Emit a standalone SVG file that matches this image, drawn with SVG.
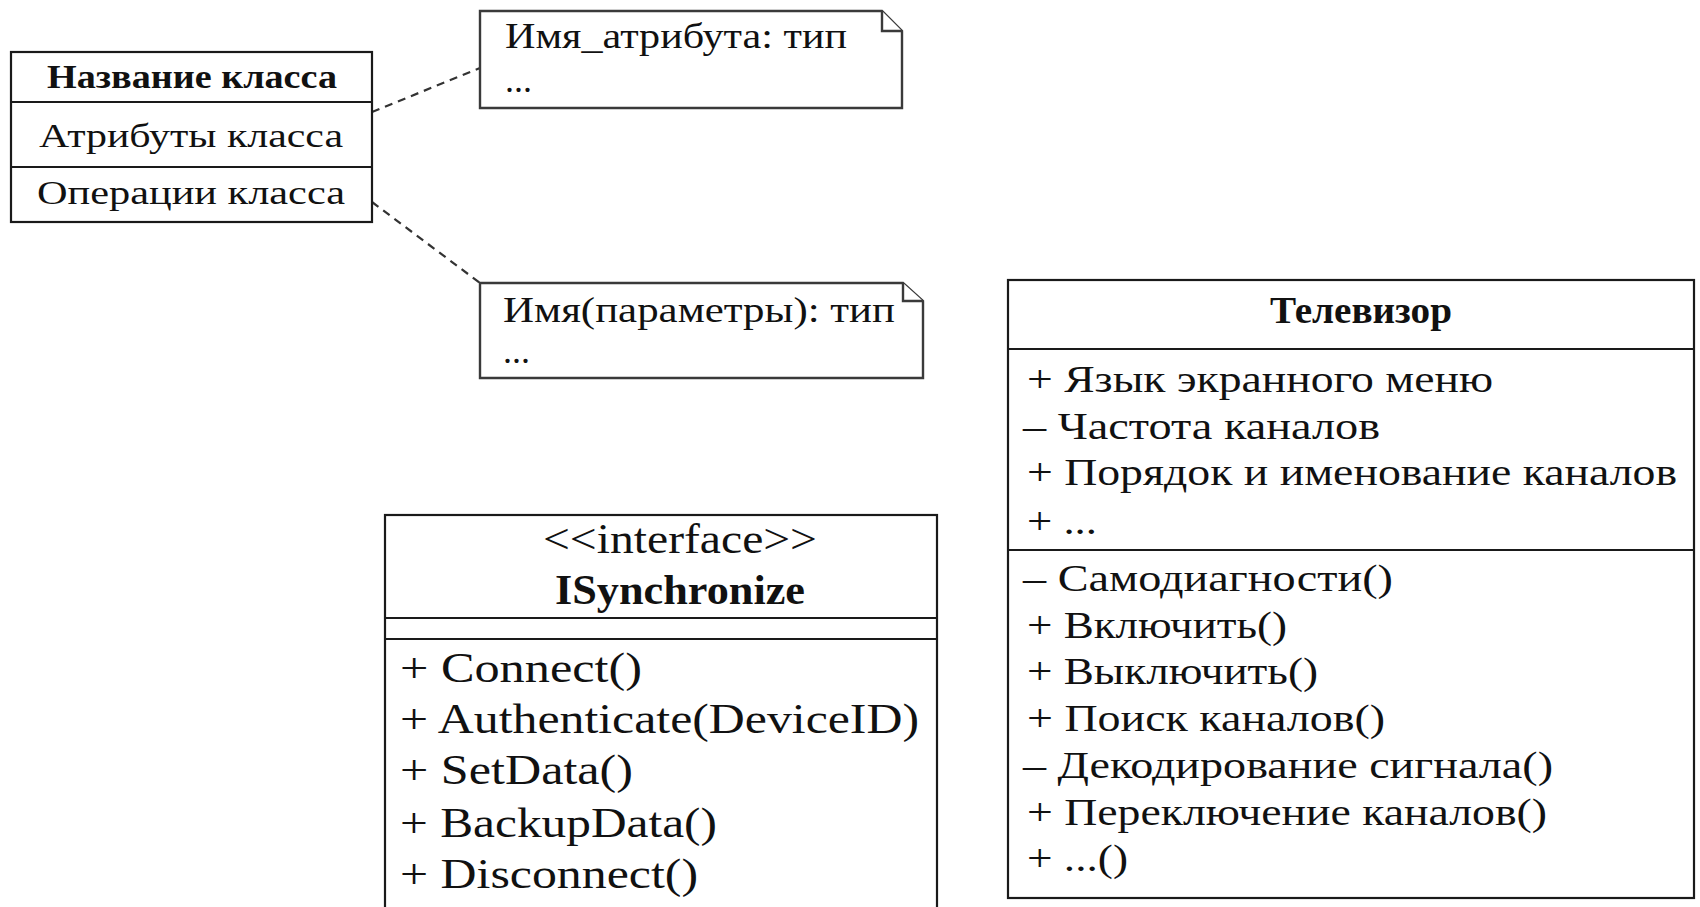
<svg xmlns="http://www.w3.org/2000/svg" width="1700" height="907" viewBox="0 0 1700 907">
<style>
.box{fill:#fff;stroke:#1a1a1a;stroke-width:2.2}
.ln{stroke:#1a1a1a;stroke-width:2.2;fill:none}
.note{fill:#fff;stroke:#3a3a3a;stroke-width:2.4}
.conn{stroke:#333;stroke-width:2.2;fill:none;stroke-dasharray:8 6}
text{font-family:"Liberation Serif","Times New Roman",serif;fill:#111}
.c{font-size:33px}
.n{font-size:36px}
.i{font-size:43px}
.t{font-size:37px}
.b{font-weight:bold}
.m{text-anchor:middle}
</style>
<rect width="1700" height="907" fill="#fff"/>
<g id="connectors">
<line class="conn" x1="372" y1="112" x2="480" y2="68"/>
<line class="conn" x1="372" y1="202" x2="480" y2="283"/>
</g>
<g id="class-template">
<rect class="box" x="11" y="52" width="361" height="170"/>
<line class="ln" x1="11" y1="102" x2="372" y2="102"/>
<line class="ln" x1="11" y1="167" x2="372" y2="167"/>
<text class="c b m" x="192" y="88" textLength="290" lengthAdjust="spacingAndGlyphs">Название класса</text>
<text class="c m" x="191" y="147" textLength="304" lengthAdjust="spacingAndGlyphs">Атрибуты класса</text>
<text class="c m" x="191" y="204" textLength="308" lengthAdjust="spacingAndGlyphs">Операции класса</text>
</g>
<g id="note-attr">
<path class="note" d="M480,11 H882 L902,31 V108 H480 Z"/>
<path class="note" d="M882,11 V31 H902"/>
<text class="n" x="505" y="48" textLength="342" lengthAdjust="spacingAndGlyphs">Имя_атрибута: тип</text>
<text class="n" x="505" y="92" textLength="27" lengthAdjust="spacingAndGlyphs">...</text>
</g>
<g id="note-op">
<path class="note" d="M480,283 H903 L923,301 V378 H480 Z"/>
<path class="note" d="M903,283 V301 H923"/>
<text class="n" x="503" y="322" textLength="392" lengthAdjust="spacingAndGlyphs">Имя(параметры): тип</text>
<text class="n" x="503" y="363" textLength="27" lengthAdjust="spacingAndGlyphs">...</text>
</g>
<g id="interface">
<rect class="box" x="385" y="515" width="552" height="420"/>
<line class="ln" x1="385" y1="618" x2="937" y2="618"/>
<line class="ln" x1="385" y1="639" x2="937" y2="639"/>
<text class="i m" x="680" y="553" textLength="274" lengthAdjust="spacingAndGlyphs">&lt;&lt;interface&gt;&gt;</text>
<text class="i b m" x="680" y="604" textLength="250" lengthAdjust="spacingAndGlyphs">ISynchronize</text>
<text class="i" x="400" y="682" textLength="242" lengthAdjust="spacingAndGlyphs">+ Connect()</text>
<text class="i" x="400" y="733" textLength="519" lengthAdjust="spacingAndGlyphs">+ Authenticate(DeviceID)</text>
<text class="i" x="400" y="784" textLength="233" lengthAdjust="spacingAndGlyphs">+ SetData()</text>
<text class="i" x="400" y="837" textLength="317" lengthAdjust="spacingAndGlyphs">+ BackupData()</text>
<text class="i" x="400" y="888" textLength="298" lengthAdjust="spacingAndGlyphs">+ Disconnect()</text>
</g>
<g id="televisor">
<rect class="box" x="1008" y="280" width="686" height="618"/>
<line class="ln" x1="1008" y1="349" x2="1694" y2="349"/>
<line class="ln" x1="1008" y1="550" x2="1694" y2="550"/>
<text class="t b m" x="1361" y="323" textLength="182" lengthAdjust="spacingAndGlyphs">Телевизор</text>
<text class="t" x="1027" y="392" textLength="466" lengthAdjust="spacingAndGlyphs">+ Язык экранного меню</text>
<text class="t" x="1023" y="439" textLength="357" lengthAdjust="spacingAndGlyphs">– Частота каналов</text>
<text class="t" x="1027" y="485" textLength="650" lengthAdjust="spacingAndGlyphs">+ Порядок и именование каналов</text>
<text class="t" x="1027" y="534" textLength="70" lengthAdjust="spacingAndGlyphs">+ ...</text>
<text class="t" x="1023" y="591" textLength="370" lengthAdjust="spacingAndGlyphs">– Самодиагности()</text>
<text class="t" x="1027" y="638" textLength="260" lengthAdjust="spacingAndGlyphs">+ Включить()</text>
<text class="t" x="1027" y="684" textLength="291" lengthAdjust="spacingAndGlyphs">+ Выключить()</text>
<text class="t" x="1027" y="731" textLength="358" lengthAdjust="spacingAndGlyphs">+ Поиск каналов()</text>
<text class="t" x="1023" y="778" textLength="530" lengthAdjust="spacingAndGlyphs">– Декодирование сигнала()</text>
<text class="t" x="1027" y="825" textLength="520" lengthAdjust="spacingAndGlyphs">+ Переключение каналов()</text>
<text class="t" x="1027" y="871" textLength="101" lengthAdjust="spacingAndGlyphs">+ ...()</text>
</g>
</svg>
